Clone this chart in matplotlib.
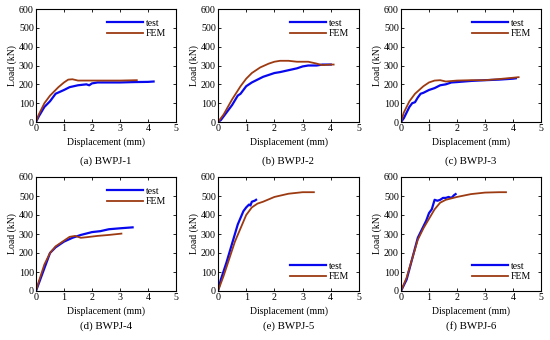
import matplotlib
matplotlib.use("Agg")
import matplotlib.pyplot as plt

plt.rcParams['font.family'] = ['Liberation Serif', 'DejaVu Serif']
plt.rcParams['mathtext.fontset'] = 'stix'

captions = ["(a) BWPJ-1", "(b) BWPJ-2", "(c) BWPJ-3", "(d) BWPJ-4", "(e) BWPJ-5", "(f) BWPJ-6"]
legend_locs = ["upper right", "upper right", "upper right", "upper right", "lower right", "lower right"]

test_x = [
    [0, 0.1, 0.3, 0.5, 0.6, 0.7, 1.0, 1.2, 1.5, 1.8, 1.9, 2.0, 2.2, 2.5, 3.0, 3.5, 4.0, 4.2],
    [0, 0.1, 0.3, 0.5, 0.7, 0.8, 1.0, 1.2, 1.4, 1.6, 1.8, 2.0, 2.2, 2.5, 2.8, 3.0, 3.2, 3.5, 3.7, 4.0],
    [0, 0.1, 0.2, 0.3, 0.4, 0.5, 0.6, 0.7, 0.8, 1.0, 1.2, 1.4, 1.6, 1.8, 2.0, 2.5, 3.0, 3.5, 4.0, 4.1],
    [0, 0.1, 0.2, 0.3, 0.4, 0.5, 0.7, 1.0, 1.3, 1.6, 2.0, 2.3, 2.6, 3.0, 3.45],
    [0, 0.1, 0.3, 0.5, 0.7, 0.9, 1.0, 1.1, 1.15, 1.2, 1.3, 1.35],
    [0, 0.2, 0.4, 0.6, 0.8, 0.9, 1.0, 1.1, 1.2, 1.3, 1.4, 1.5, 1.6, 1.7, 1.8, 1.9, 1.95],
]
test_y = [
    [0, 30, 80, 110, 130, 150, 170, 185, 195, 200, 195, 205, 210, 210, 210, 212, 213, 215],
    [0, 10, 50, 90, 140, 150, 190, 210, 225, 240, 250, 260, 265, 275, 285, 295, 300, 300, 305, 305],
    [0, 20, 50, 80, 100, 105, 130, 150, 155, 170, 180, 195, 200, 210, 212, 218, 222, 225, 230, 232],
    [0, 40, 80, 120, 160, 200, 230, 260, 280, 295, 310, 315, 325, 330, 335],
    [0, 60, 150, 250, 350, 420, 440, 455, 450, 470, 475, 480],
    [0, 60, 170, 280, 340, 370, 410, 430, 480, 475, 480, 490, 490, 495, 490, 505, 510],
]
fem_x = [
    [0, 0.1, 0.3, 0.5, 0.8, 1.0, 1.15, 1.3, 1.5, 2.0, 3.0, 3.6],
    [0, 0.2, 0.5, 0.8, 1.0, 1.2, 1.5, 1.8, 2.0, 2.2, 2.5, 2.8, 3.2, 3.5, 3.7, 4.0, 4.1],
    [0, 0.1, 0.3, 0.5, 0.8, 1.0, 1.2, 1.4, 1.6, 2.0, 2.5, 3.0, 3.5, 4.0, 4.2],
    [0, 0.1, 0.3, 0.5, 0.7, 1.0, 1.2, 1.4, 1.6, 1.8, 2.2, 2.6, 3.05],
    [0, 0.2, 0.4, 0.6, 0.8, 1.0, 1.2, 1.4, 1.6, 2.0, 2.5, 3.0, 3.4],
    [0, 0.2, 0.4, 0.6, 0.8, 1.0, 1.2, 1.4, 1.6, 2.0, 2.5, 3.0, 3.5, 3.75],
]
fem_y = [
    [0, 40, 100, 140, 185, 210, 225, 227, 220, 220, 220, 222],
    [0, 40, 120, 190, 230, 260, 290, 310, 320, 325, 325, 320, 320, 310, 302, 305, 305],
    [0, 50, 110, 150, 190, 210, 220, 222, 215, 220, 222, 222, 228, 235, 238],
    [0, 50, 140, 200, 235, 265, 285, 290, 280, 283, 290, 295, 302],
    [0, 80, 170, 260, 330, 400, 440, 460, 470, 495, 512, 520, 520],
    [0, 70, 170, 270, 330, 380, 430, 465, 480, 495, 510, 518, 520, 520],
]

x_ticks = [0, 1, 2, 3, 4, 5]
y_ticks = [0, 100, 200, 300, 400, 500, 600]

W, H = 550, 340
fig = plt.figure(figsize=(5.5, 3.4), dpi=100)

lefts = [36, 218, 401]
widths = [140, 141, 140]
rows = [(9, 122), (177, 291)]
cap_y = [161, 326]

for i in range(6):
    r, c = divmod(i, 3)
    top, bot = rows[r]
    ax = fig.add_axes([lefts[c] / W, 1 - bot / H, widths[c] / W, (bot - top) / H])
    ax.plot(test_x[i], test_y[i], color='#0808ee', lw=1.6, label='test')
    ax.plot(fem_x[i], fem_y[i], color='#9c3a12', lw=1.3, label='FEM')
    ax.set_xlim(0, 5)
    ax.set_ylim(0, 600)
    ax.set_xticks(x_ticks)
    ax.set_yticks(y_ticks)
    ax.tick_params(direction='in', length=2.5, labelsize=7.2, pad=1.5, width=0.6,
                   top=True, right=True)
    for s in ax.spines.values():
        s.set_linewidth(0.8)
    ax.set_ylabel('Load (kN)', fontsize=7, labelpad=1)
    ax.set_xlabel('Displacement (mm)', fontsize=7, labelpad=3)
    ax.legend(loc=legend_locs[i], frameon=False, fontsize=7, handlelength=3.7,
              handletextpad=0.3, labelspacing=0.15, borderaxespad=0.6)
    cx = (lefts[c] + widths[c] / 2) / W
    fig.text(cx, 1 - cap_y[r] / H, captions[i], ha='center', va='center', fontsize=7.8)

fig.savefig('out.png', dpi=100)
